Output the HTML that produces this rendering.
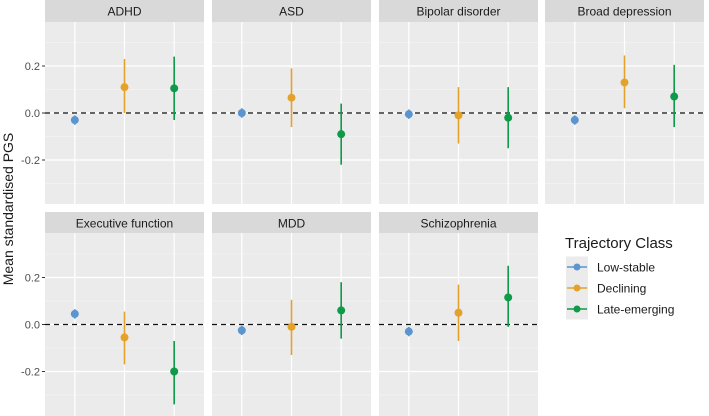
<!DOCTYPE html>
<html><head><meta charset="utf-8"><style>
html,body{margin:0;padding:0;background:#fff;}
svg{display:block;font-family:"Liberation Sans","DejaVu Sans",sans-serif;}
</style></head><body>
<svg id="chart" width="709" height="416" viewBox="0 0 709 416" xmlns="http://www.w3.org/2000/svg"></svg>
<script>
const panels = ["ADHD","ASD","Bipolar disorder","Broad depression","Executive function","MDD","Schizophrenia"];
const classes = ["Low-stable","Declining","Late-emerging"];
const means = [[-0.03,0.11,0.105],[0.0,0.065,-0.09],[-0.005,-0.01,-0.02],[-0.03,0.13,0.07],[0.045,-0.055,-0.2],[-0.025,-0.01,0.06],[-0.03,0.05,0.115]];
const lower = [[-0.05,0.0,-0.03],[-0.02,-0.06,-0.22],[-0.025,-0.13,-0.15],[-0.05,0.02,-0.06],[0.025,-0.17,-0.34],[-0.045,-0.13,-0.06],[-0.05,-0.07,-0.01]];
const upper = [[-0.01,0.23,0.24],[0.02,0.19,0.04],[0.015,0.11,0.11],[-0.01,0.245,0.205],[0.065,0.055,-0.07],[-0.005,0.105,0.18],[-0.01,0.17,0.25]];
const yTicks = [0.2,0.0,-0.2];
const yTickLabels = ["0.2","0.0","-0.2"];
const colors = ["#5b95cf","#e5a22a","#0f9a4a"];

const svg = document.getElementById('chart');
const NS = "http://www.w3.org/2000/svg";
function mk(tag, attrs, parent){const e=document.createElementNS(NS,tag);for(const k in attrs)e.setAttribute(k,attrs[k]);(parent||svg).appendChild(e);return e;}

const colX = [45,212,379,545], pw = 159;
const rows = [{stripTop:0, top:22, bottom:204, zero:113},{stripTop:212, top:233, bottom:416, zero:324.5}];
const pxPerUnit = 235;

panels.forEach((name,i)=>{
  const r = rows[Math.floor(i/4)], x0 = colX[i%4];
  const yS = v => r.zero - v*pxPerUnit;
  const xS = c => x0 + (c + 0.6) * pw/3.2;
  const g = mk('g',{});
  
  
  const strip = mk('rect',{x:x0,y:r.stripTop,width:pw,height:r.top-r.stripTop,fill:'#d9d9d9'},g);
  
  
  const st = mk('text',{x:x0+pw/2,y:r.stripTop+15.5,'text-anchor':'middle','font-size':'12',fill:'#1a1a1a'},g);
  st.textContent = name;
  
  
  mk('rect',{x:x0,y:r.top,width:pw,height:r.bottom-r.top,fill:'#ebebeb'},g);
  [-0.3,-0.1,0.1,0.3].forEach(v=>{const y=yS(v);if(y>r.top&&y<r.bottom)mk('line',{x1:x0,x2:x0+pw,y1:y,y2:y,stroke:'#f7f7f7','stroke-width':0.6},g);});
  yTicks.forEach(v=>{mk('line',{x1:x0,x2:x0+pw,y1:yS(v),y2:yS(v),stroke:'#fff','stroke-width':1.2},g);});
  classes.forEach((c,j)=>mk('line',{x1:xS(j),x2:xS(j),y1:r.top,y2:r.bottom,stroke:'#fff','stroke-width':1.2},g));
  mk('line',{x1:x0,x2:x0+pw,y1:yS(0),y2:yS(0),stroke:'#111','stroke-width':1.3,'stroke-dasharray':'5,4'},g);
  classes.forEach((c,j)=>{
    const eb = mk('line',{x1:xS(j),x2:xS(j),y1:yS(lower[i][j]),y2:yS(upper[i][j]),stroke:colors[j],'stroke-width':1.6},g);
    
    
    const pt = mk('circle',{cx:xS(j),cy:yS(means[i][j]),r:4,fill:colors[j]},g);
    
    
  });
  if(i%4===0){
    yTicks.forEach((v,k)=>{
      mk('line',{x1:x0-3,x2:x0,y1:yS(v),y2:yS(v),stroke:'#333','stroke-width':1},g);
      const t = mk('text',{x:x0-5,y:yS(v)+4,'text-anchor':'end','font-size':'11',fill:'#4d4d4d'},g);
      t.textContent = yTickLabels[k];
      
      
    });
  }
});

const yt = mk('text',{x:0,y:0,transform:'translate(13,209) rotate(-90)','text-anchor':'middle','font-size':'14',fill:'#1a1a1a'});
yt.textContent = 'Mean standardised PGS';



const lg = mk('g',{});


const lt = mk('text',{x:565,y:248,'font-size':'15',fill:'#1a1a1a'},lg);
lt.textContent = 'Trajectory Class';


classes.forEach((c,j)=>{
  const y = 267 + j*21;
  const e = mk('g',{},lg);
  
  
  mk('rect',{x:566,y:y-10.5,width:22,height:21,fill:'#ebebeb'},e);
  mk('line',{x1:567,x2:587,y1:y,y2:y,stroke:colors[j],'stroke-width':1.6},e);
  mk('circle',{cx:577,cy:y,r:3.5,fill:colors[j]},e);
  const t = mk('text',{x:597,y:y+4.5,'font-size':'12',fill:'#1a1a1a'},e);
  t.textContent = c;
});
</script>
</body></html>
